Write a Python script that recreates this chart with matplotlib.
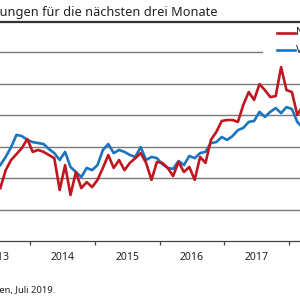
import numpy as np
import matplotlib
matplotlib.use("Agg")
import matplotlib.pyplot as plt
from matplotlib.lines import Line2D

plt.rcParams['font.family'] = ['Noto Sans', 'DejaVu Sans']

# monthly values, Jul 2013 .. Mar 2018
start_year = 2013.5
red_vals = [16.8, 22.5, 25.7, 27.6, 29.5, 32.4, 28.3, 28.9, 28.3, 27.3,
            26.3, 16.2, 24.1, 14.6, 21.9, 16.8, 18.7, 17.1, 19.4, 23.2,
            27.3, 23.2, 25.7, 22.5, 24.8, 26.3, 27.9, 24.8, 19.4, 25.1,
            24.8, 23.2, 20.6, 25.1, 21.9, 23.5, 19.4, 26.7, 24.8, 32.1,
            34.6, 38.1, 38.4, 38.4, 37.8, 43.2, 47.3, 44.8, 49.8, 47.9,
            45.7, 46.0, 55.2, 47.9, 47.3, 40.0, 42.9]
blue_vals = [24.1, 26.7, 29.8, 33.7, 33.3, 32.1, 31.4, 31.1, 30.8, 29.2,
             27.9, 25.7, 28.3, 23.5, 21.9, 20.3, 23.2, 22.5, 24.1, 28.9,
             30.8, 27.9, 28.9, 28.3, 27.3, 26.7, 29.8, 25.7, 26.7, 26.3,
             24.4, 23.2, 22.9, 25.4, 24.1, 27.0, 26.3, 27.9, 28.3, 31.1,
             31.4, 33.0, 32.1, 33.3, 35.2, 35.9, 37.8, 38.1, 41.0, 39.4,
             41.0, 42.2, 40.6, 42.5, 41.9, 37.8, 35.9]
red_label = 'Nachfrage'
blue_label = 'Verkaufspreise'
years = [2013, 2014, 2015, 2016, 2017, 2018]
grid_vals = [10, 20, 30, 40, 50, 60]

red_c = '#c0161f'
blue_c = '#1a74bf'

t = start_year + (np.arange(len(red_vals)) + 0.5) / 12

fig = plt.figure(figsize=(3, 3), dpi=100)
ax = fig.add_axes([0, 59 / 300, 1, 219 / 300])

for g in grid_vals:
    ax.axhline(g, color='#7a7a7a', lw=1.0, zorder=1,
               xmax=262 / 300 if g == grid_vals[-1] else 1)

ax.plot(t, red_vals, color=red_c, lw=1.9, zorder=3)
ax.plot(t, blue_vals, color=blue_c, lw=1.9, zorder=2)

for s in ['top', 'left', 'right']:
    ax.spines[s].set_visible(False)
ax.spines['bottom'].set_color('#444444')
ax.spines['bottom'].set_linewidth(0.9)
ax.set_yticks([])
ax.set_xticks(years)
ax.set_xticklabels([])
ax.tick_params(axis='x', which='major', length=3, width=0.9, color='#444444', direction='out')

# year labels sit in the middle of each year (also the half-cut 2013)
for y in years:
    ax.text(y + 0.5, -16 / 219, str(y), transform=ax.get_xaxis_transform(),
            ha='center', va='center', fontsize=7.5, color='#222222', clip_on=False)

# limits after the ticks, so the crop stays as in the reference
ax.set_xlim(2014 - 30 / 64.8, 2014 + 270 / 64.8)
ax.set_ylim(0, 219 / 3.15)

# title and rule
fig.text(218 / 300, 1 - 16 / 300, 'Erwartungen für die nächsten drei Monate',
         ha='right', va='baseline', fontsize=9.2, fontweight='semibold', color='#222222')
fig.add_artist(Line2D([0, 1], [1 - 22 / 300, 1 - 22 / 300], color='#333333', lw=1.6))

# legend (cut at the right edge)
fig.add_artist(Line2D([277 / 300, 295 / 300], [1 - 33 / 300] * 2, color=red_c, lw=1.9))
fig.add_artist(Line2D([277 / 300, 295 / 300], [1 - 50 / 300] * 2, color=blue_c, lw=1.9))
fig.text(296 / 300, 1 - 33 / 300, red_label, ha='left', va='center', fontsize=7.5, color='#222222')
fig.text(296 / 300, 1 - 50 / 300, blue_label, ha='left', va='center', fontsize=7.5, color='#222222')

# source
fig.text(55 / 300, 1 - 293 / 300, 'Quelle: ifo Konjunkturumfragen, Juli 2019.',
         ha='right', va='baseline', fontsize=6.8, color='#222222')

fig.savefig('out.png', dpi=100)
